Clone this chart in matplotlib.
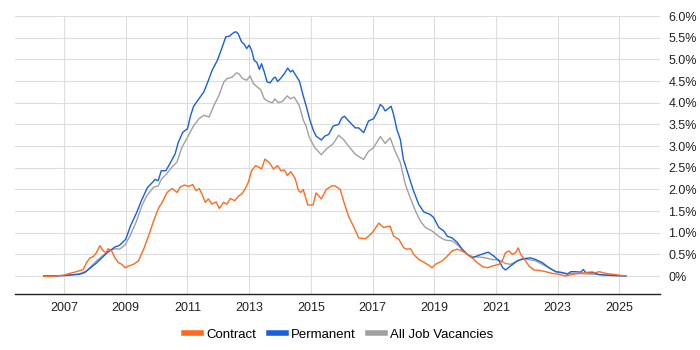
import matplotlib
matplotlib.use("Agg")
import matplotlib.pyplot as plt
from matplotlib.ticker import FixedLocator, FuncFormatter

plt.rcParams['font.family'] = ['Liberation Sans Narrow', 'Liberation Sans', 'DejaVu Sans']

perm_years = [2006.34, 2007.0, 2007.5, 2007.67, 2008.05, 2008.4, 2008.65, 2008.8, 2009.0, 2009.15,
              2009.35, 2009.5, 2009.7, 2009.85, 2009.95, 2010.05, 2010.15, 2010.3, 2010.45, 2010.6,
              2010.7, 2010.85, 2011.0, 2011.1, 2011.2, 2011.37, 2011.53, 2011.66, 2011.8, 2011.97,
              2012.13, 2012.24, 2012.37, 2012.46, 2012.56, 2012.64, 2012.75, 2012.84, 2012.92, 2013.0,
              2013.08, 2013.16, 2013.25, 2013.33, 2013.4, 2013.49, 2013.58, 2013.68, 2013.79, 2013.85,
              2013.92, 2014.03, 2014.14, 2014.25, 2014.34, 2014.41, 2014.52, 2014.63, 2014.74, 2014.85,
              2014.96, 2015.07, 2015.17, 2015.34, 2015.45, 2015.58, 2015.72, 2015.9, 2016.0, 2016.09,
              2016.17, 2016.33, 2016.44, 2016.55, 2016.71, 2016.87, 2017.03, 2017.14, 2017.25, 2017.33,
              2017.41, 2017.5, 2017.6, 2017.68, 2017.79, 2017.9, 2018.0, 2018.17, 2018.33, 2018.5,
              2018.66, 2018.87, 2018.98, 2019.15, 2019.31, 2019.42, 2019.58, 2019.74, 2019.9, 2020.07,
              2020.23, 2020.45, 2020.61, 2020.75, 2020.93, 2021.1, 2021.22, 2021.31, 2021.47, 2021.69,
              2021.91, 2022.12, 2022.29, 2022.5, 2022.72, 2022.94, 2023.15, 2023.32, 2023.42, 2023.59,
              2023.75, 2023.83, 2023.91, 2024.13, 2024.29, 2024.56, 2024.89, 2025.21]
perm_vals = [0.0, 0.01, 0.04, 0.08, 0.3, 0.54, 0.67, 0.71, 0.85, 1.15,
             1.46, 1.73, 2.04, 2.15, 2.23, 2.2, 2.43, 2.43, 2.62, 2.82,
             3.08, 3.32, 3.4, 3.7, 3.92, 4.09, 4.25, 4.48, 4.75, 4.98,
             5.29, 5.52, 5.54, 5.6, 5.64, 5.6, 5.41, 5.35, 5.25, 5.33,
             5.21, 4.98, 4.93, 4.77, 4.9, 4.71, 4.48, 4.46, 4.57, 4.59,
             4.49, 4.57, 4.67, 4.8, 4.71, 4.75, 4.62, 4.5, 4.19, 3.92,
             3.62, 3.38, 3.23, 3.14, 3.23, 3.27, 3.46, 3.5, 3.65, 3.69,
             3.62, 3.5, 3.42, 3.42, 3.31, 3.58, 3.63, 3.77, 3.96, 3.91,
             3.81, 3.86, 3.92, 3.73, 3.38, 3.15, 2.69, 2.31, 1.96, 1.65,
             1.48, 1.42, 1.35, 1.12, 1.04, 0.92, 0.88, 0.78, 0.62, 0.5,
             0.42, 0.48, 0.52, 0.55, 0.46, 0.35, 0.19, 0.14, 0.23, 0.35,
             0.4, 0.42, 0.38, 0.31, 0.19, 0.1, 0.08, 0.04, 0.1, 0.1,
             0.09, 0.15, 0.08, 0.09, 0.04, 0.02, 0.01, 0.0]

all_years = [2006.34, 2007.0, 2007.5, 2007.73, 2008.05, 2008.4, 2008.65, 2008.8, 2008.97, 2009.14,
             2009.35, 2009.52, 2009.68, 2009.9, 2010.05, 2010.16, 2010.33, 2010.49, 2010.66, 2010.82,
             2011.0, 2011.2, 2011.37, 2011.53, 2011.7, 2011.86, 2012.02, 2012.18, 2012.29, 2012.45,
             2012.59, 2012.67, 2012.78, 2012.92, 2013.03, 2013.14, 2013.27, 2013.38, 2013.49, 2013.62,
             2013.76, 2013.83, 2013.94, 2014.08, 2014.24, 2014.33, 2014.46, 2014.62, 2014.76, 2014.84,
             2014.95, 2015.12, 2015.34, 2015.5, 2015.72, 2015.9, 2016.06, 2016.22, 2016.44, 2016.71,
             2016.87, 2017.03, 2017.25, 2017.41, 2017.57, 2017.73, 2017.9, 2018.06, 2018.22, 2018.39,
             2018.55, 2018.71, 2018.93, 2019.15, 2019.36, 2019.58, 2019.74, 2019.9, 2020.07, 2020.23,
             2020.45, 2020.66, 2020.88, 2021.1, 2021.31, 2021.47, 2021.64, 2021.85, 2022.07, 2022.29,
             2022.5, 2022.72, 2022.94, 2023.26, 2023.59, 2023.91, 2024.24, 2024.56, 2025.21]
all_vals = [0.0, 0.01, 0.05, 0.12, 0.35, 0.56, 0.63, 0.62, 0.71, 0.93,
            1.27, 1.62, 1.85, 2.05, 2.08, 2.24, 2.36, 2.51, 2.63, 2.97,
            3.2, 3.47, 3.63, 3.71, 3.67, 3.94, 4.17, 4.48, 4.56, 4.59,
            4.69, 4.67, 4.56, 4.52, 4.62, 4.44, 4.36, 4.29, 4.09, 4.03,
            4.0, 4.09, 4.0, 4.03, 4.16, 4.09, 4.13, 3.94, 3.59, 3.47,
            3.2, 2.97, 2.8, 2.93, 3.05, 3.25, 3.15, 3.0, 2.81, 2.69,
            2.88, 2.96, 3.22, 3.06, 3.19, 2.88, 2.62, 2.12, 1.81, 1.5,
            1.27, 1.12, 1.04, 0.91, 0.83, 0.81, 0.73, 0.62, 0.5, 0.45,
            0.44, 0.42, 0.38, 0.37, 0.29, 0.27, 0.33, 0.4, 0.38, 0.35,
            0.27, 0.19, 0.1, 0.06, 0.06, 0.05, 0.04, 0.02, 0.0]

contract_years = [2006.34, 2006.75, 2007.0, 2007.18, 2007.4, 2007.62, 2007.73, 2007.84, 2007.95, 2008.05,
                  2008.16, 2008.27, 2008.36, 2008.43, 2008.54, 2008.65, 2008.76, 2008.87, 2008.98, 2009.09,
                  2009.25, 2009.41, 2009.58, 2009.74, 2009.9, 2010.07, 2010.18, 2010.34, 2010.5, 2010.66,
                  2010.77, 2010.9, 2011.04, 2011.17, 2011.28, 2011.38, 2011.47, 2011.58, 2011.68, 2011.79,
                  2011.93, 2012.03, 2012.17, 2012.28, 2012.39, 2012.53, 2012.66, 2012.75, 2012.86, 2012.97,
                  2013.08, 2013.21, 2013.32, 2013.4, 2013.51, 2013.66, 2013.79, 2013.92, 2014.03, 2014.14,
                  2014.24, 2014.35, 2014.49, 2014.6, 2014.68, 2014.75, 2014.9, 2015.07, 2015.17, 2015.34,
                  2015.5, 2015.68, 2015.79, 2015.95, 2016.06, 2016.22, 2016.38, 2016.55, 2016.77, 2016.93,
                  2017.03, 2017.2, 2017.36, 2017.47, 2017.57, 2017.68, 2017.85, 2018.01, 2018.12, 2018.23,
                  2018.33, 2018.5, 2018.66, 2018.82, 2018.93, 2019.04, 2019.26, 2019.42, 2019.58, 2019.74,
                  2019.9, 2020.07, 2020.23, 2020.39, 2020.56, 2020.72, 2020.88, 2021.1, 2021.2, 2021.31,
                  2021.42, 2021.53, 2021.64, 2021.72, 2021.8, 2021.91, 2022.07, 2022.23, 2022.4, 2022.61,
                  2022.83, 2023.05, 2023.26, 2023.48, 2023.7, 2023.91, 2024.13, 2024.35, 2024.56, 2024.89,
                  2025.21]
contract_vals = [-0.01, 0.0, 0.02, 0.06, 0.1, 0.15, 0.31, 0.42, 0.45, 0.54,
                 0.7, 0.58, 0.54, 0.63, 0.58, 0.42, 0.31, 0.27, 0.19, 0.23,
                 0.27, 0.35, 0.62, 0.93, 1.27, 1.58, 1.7, 1.93, 2.02, 1.93,
                 2.06, 2.1, 2.07, 2.11, 1.97, 2.02, 1.89, 1.7, 1.78, 1.66,
                 1.71, 1.56, 1.7, 1.66, 1.79, 1.74, 1.85, 1.89, 2.0, 2.16,
                 2.43, 2.55, 2.51, 2.47, 2.7, 2.61, 2.47, 2.55, 2.43, 2.45,
                 2.32, 2.41, 2.25, 1.97, 1.93, 2.0, 1.64, 1.64, 1.92, 1.78,
                 2.0, 2.08, 2.08, 2.0, 1.73, 1.38, 1.15, 0.88, 0.86, 0.96,
                 1.04, 1.22, 1.12, 1.14, 1.15, 0.92, 0.85, 0.65, 0.62, 0.63,
                 0.5, 0.38, 0.32, 0.25, 0.19, 0.27, 0.35, 0.46, 0.58, 0.62,
                 0.58, 0.5, 0.42, 0.31, 0.22, 0.19, 0.23, 0.27, 0.35, 0.54,
                 0.58, 0.5, 0.54, 0.65, 0.5, 0.4, 0.23, 0.14, 0.13, 0.1,
                 0.06, 0.04, 0.0, 0.04, 0.06, 0.08, 0.06, 0.1, 0.06, 0.03,
                 0.0]

year_ticks = [2007, 2009, 2011, 2013, 2015, 2017, 2019, 2021, 2023, 2025]
pct_ticks = [0, 0.5, 1.0, 1.5, 2.0, 2.5, 3.0, 3.5, 4.0, 4.5, 5.0, 5.5, 6.0]

series_names = ["Contract", "Permanent", "All Job Vacancies"]
colors = ["#ff6a1f", "#1a5fdc", "#a0a0a0"]

fig = plt.figure(figsize=(7, 3.5), dpi=100)
ax = fig.add_axes([0.021, 0.16, 0.922, 0.794])

ax.plot(all_years, all_vals, color=colors[2], lw=1.0, label=series_names[2], zorder=3)
ax.plot(perm_years, perm_vals, color=colors[1], lw=1.0, label=series_names[1], zorder=4)
ax.plot(contract_years, contract_vals, color=colors[0], lw=1.0, label=series_names[0], zorder=5)

ax.set_xlim(2005.4, 2026.32)
ax.set_ylim(-0.415, 6.0)

ax.xaxis.set_major_locator(FixedLocator(year_ticks))
ax.yaxis.set_major_locator(FixedLocator(pct_ticks))
ax.yaxis.set_major_formatter(FuncFormatter(lambda v, p: "0%" if v == 0 else f"{v:.1f}%"))
ax.yaxis.tick_right()
ax.tick_params(axis='both', length=0, labelsize=9, colors='#222222')
ax.tick_params(axis='y', pad=6)
ax.tick_params(axis='x', pad=6)

ax.grid(True, color='#dddddd', lw=0.8, zorder=0)
for s in ['top', 'left', 'right']:
    ax.spines[s].set_visible(False)
ax.spines['bottom'].set_color('#222222')
ax.spines['bottom'].set_linewidth(1.0)

handles, labels = ax.get_legend_handles_labels()
order = [2, 1, 0]
leg = fig.legend([handles[i] for i in order], [labels[i] for i in order],
                 loc='center', bbox_to_anchor=(0.484, 0.043), ncol=3, frameon=False,
                 fontsize=9.5, handlelength=1.3, handletextpad=0.4, columnspacing=0.9)
for h in leg.legend_handles:
    h.set_linewidth(4)

fig.savefig("out.png", dpi=100)
